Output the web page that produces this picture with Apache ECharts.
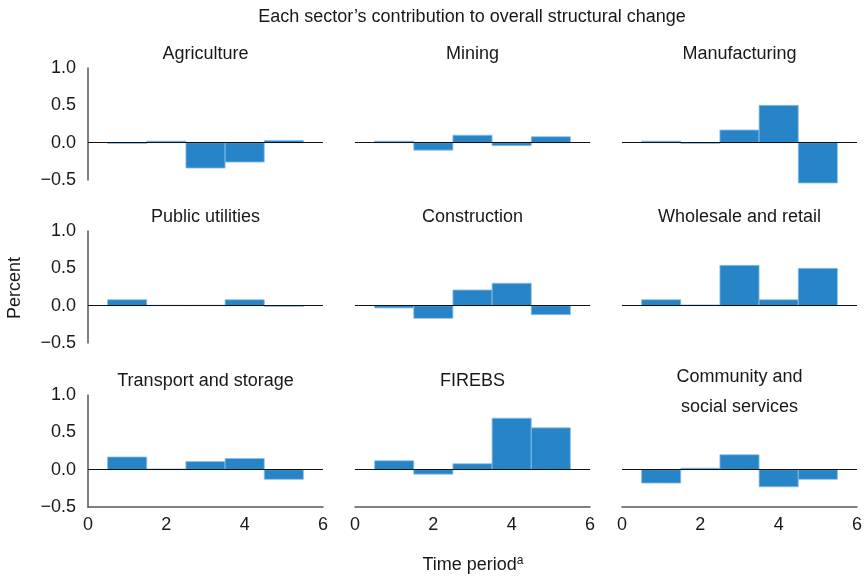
<!DOCTYPE html>
<html>
<head>
<meta charset="utf-8">
<script src="https://cdn.jsdelivr.net/npm/echarts@6/dist/echarts.min.js"></script>
<style>
  html, body { margin: 0; padding: 0; background: #fff; }
  #chart { width: 868px; height: 581px; }
</style>
</head>
<body>
<div id="chart"></div>
<script>
// sector panels, read left-to-right, top-to-bottom
const sectors = ['Agriculture', 'Mining', 'Manufacturing',
  'Public utilities', 'Construction', 'Wholesale and retail',
  'Transport and storage', 'FIREBS', 'Community and\nsocial services']
const periods = [1, 2, 3, 4, 5]

const agriculture = [-0.01, 0.02, -0.34, -0.26, 0.03]
const mining = [0.02, -0.10, 0.10, -0.04, 0.08]
const manufacturing = [0.02, -0.01, 0.17, 0.50, -0.54]
const publicUtilities = [0.08, 0.005, 0.005, 0.08, -0.01]
const construction = [-0.03, -0.17, 0.21, 0.30, -0.12]
const wholesaleRetail = [0.08, 0.01, 0.54, 0.08, 0.50]
const transportStorage = [0.17, 0.01, 0.11, 0.15, -0.13]
const firebs = [0.12, -0.06, 0.08, 0.69, 0.56]
const communitySocial = [-0.18, 0.02, 0.20, -0.23, -0.13]

const yTicks = [-0.5, 0, 0.5, 1.0]
const xTicks = [0, 2, 4, 6]

const allValues = [agriculture, mining, manufacturing, publicUtilities, construction,
  wholesaleRetail, transportStorage, firebs, communitySocial]

const FONT = '"Liberation Sans", Arial, sans-serif'
const TXT = '#1a1718'
const BAR = '#2684c7'

// layout of the 3x3 panels (px)
const colLeft = [88, 355, 622]
const rowTop = [68, 231, 395]
const panelW = 235
const panelH = 112

const chart = echarts.init(document.getElementById('chart'))

const grids = []
const xAxes = []
const yAxes = []
const series = []
const graphics = []

allValues.forEach((vals, i) => {
  const r = Math.floor(i / 3)
  const c = i % 3
  grids.push({ left: colLeft[c], top: rowTop[r], width: panelW, height: panelH })
  xAxes.push({
    type: 'value', gridIndex: i, min: xTicks[0], max: xTicks[xTicks.length - 1], interval: 2,
    axisLine: { show: r === 2, onZero: false, lineStyle: { color: '#555', width: 1.5 } },
    axisTick: { show: false },
    splitLine: { show: false },
    axisLabel: { show: r === 2, color: TXT, fontSize: 18, fontFamily: FONT, margin: 9 }
  })
  yAxes.push({
    type: 'value', gridIndex: i, min: yTicks[0], max: yTicks[yTicks.length - 1], interval: 0.5,
    axisLine: { show: c === 0, lineStyle: { color: '#555', width: 1.5 } },
    axisTick: { show: false },
    splitLine: { show: false },
    axisLabel: {
      show: c === 0, color: TXT, fontSize: 18, fontFamily: FONT, margin: 12,
      formatter: v => v.toFixed(1).replace('-', '\u2212')
    }
  })
  series.push({
    type: 'custom',
    xAxisIndex: i,
    yAxisIndex: i,
    data: periods.map((p, k) => [p, vals[k]]),
    renderItem: (params, api) => {
      const x = api.value(0)
      const v = api.value(1)
      const a = api.coord([x - 0.5, v])
      const b = api.coord([x + 0.5, 0])
      return {
        type: 'rect',
        shape: { x: a[0], y: Math.min(a[1], b[1]), width: b[0] - a[0], height: Math.abs(b[1] - a[1]) },
        style: { fill: BAR, stroke: '#8fc0e6', lineWidth: 0.8 }
      }
    },
    markLine: {
      silent: true, symbol: 'none', z: 10,
      label: { show: false },
      lineStyle: { color: '#111', width: 1.2, type: 'solid' },
      data: [{ yAxis: 0 }]
    },
    z: 2
  })
  // panel title
  graphics.push({
    type: 'text',
    x: colLeft[c] + panelW / 2,
    y: r === 2 && c === 2 ? 392 : rowTop[r] - 14,
    style: {
      text: sectors[i], fill: TXT, font: '18px ' + FONT,
      textAlign: 'center', textVerticalAlign: 'middle', lineHeight: 30
    }
  })
})

graphics.push({
  type: 'text', x: 472, y: 17,
  style: {
    text: 'Each sector\u2019s contribution to overall structural change', fill: TXT,
    font: '18px ' + FONT, textAlign: 'center', textVerticalAlign: 'middle'
  }
})
graphics.push({
  type: 'text', x: 15, y: 288, rotation: Math.PI / 2,
  style: {
    text: 'Percent', fill: TXT, font: '18px ' + FONT,
    textAlign: 'center', textVerticalAlign: 'middle'
  }
})
graphics.push({
  type: 'text', x: 473, y: 565,
  style: {
    text: '{m|Time period}{s|a}', fill: TXT,
    textAlign: 'center', textVerticalAlign: 'middle',
    rich: {
      m: { fontSize: 18, fontFamily: FONT, color: TXT },
      s: { fontSize: 12, fontFamily: FONT, color: TXT, verticalAlign: 'top', padding: [0, 0, 8, 0] }
    }
  }
})

chart.setOption({
  backgroundColor: '#fff',
  animation: false,
  grid: grids,
  xAxis: xAxes,
  yAxis: yAxes,
  series: series,
  graphic: graphics
})
</script>
</body>
</html>
